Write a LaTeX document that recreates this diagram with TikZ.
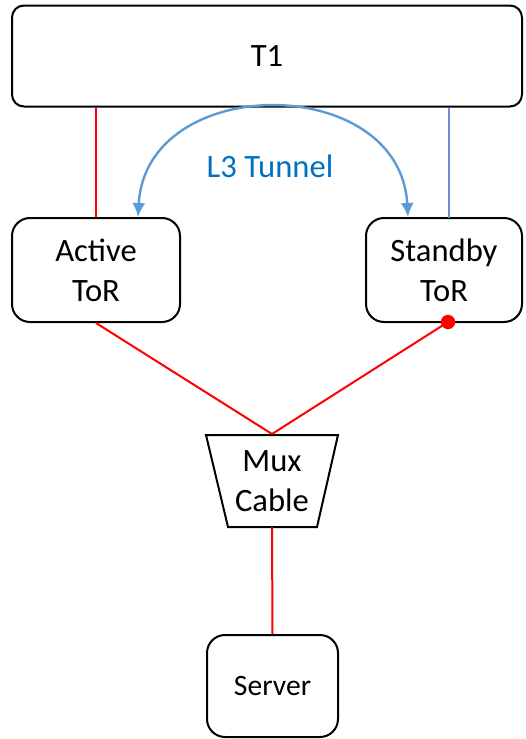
\documentclass[tikz,border=0pt]{standalone}
\usepackage{fontspec}
\setmainfont{Carlito}
\usetikzlibrary{arrows.meta,calc}
\definecolor{redline}{RGB}{255,0,0}
\definecolor{arcblue}{RGB}{91,155,213}
\definecolor{txtblue}{RGB}{0,112,192}
\definecolor{sblue}{RGB}{115,140,205}
\tikzset{
  box/.style={draw=black, line width=1pt, align=center, inner sep=0pt,
    font=\fontsize{16.3}{20}\selectfont},
  redc/.style={draw=redline, line width=1pt},
}
\begin{document}
\begin{tikzpicture}[x=0.5pt,y=-0.5pt]
\useasboundingbox (0,0) rectangle (525,739);
\node[box, rounded corners=6pt, minimum width=255pt, minimum height=50.5pt] (T1) at (267,56) {T1};
\node[box, rounded corners=9pt, minimum width=84pt, minimum height=52pt] (A) at (96,270) {Active\\ToR};
\node[box, rounded corners=9pt, minimum width=78pt, minimum height=52pt] (S) at (444,270) {Standby\\ToR};
\node[box, rounded corners=9pt, minimum width=65.5pt, minimum height=51pt, font=\fontsize{14.8}{18}\selectfont] (Sv) at (272.5,686) {Server};
% mux trapezoid
\draw[line width=1pt] (206,435) -- (338,435) -- (317,527) -- (228,527) -- cycle;
\node[align=center, inner sep=0pt, font=\fontsize{16.3}{20}\selectfont] (M) at (272,481) {Mux\\Cable};
\coordinate (mt) at (272,434);
\coordinate (mb) at (272,527);
\coordinate (sbot) at (448,322);
\coordinate (stop) at (449,218);
\coordinate (al) at (138,217);
\coordinate (ar) at (408,217);
% connectors
\draw[redc] (T1.south -| A.north) -- (A.north);
\draw[draw=sblue, line width=1pt] (T1.south -| stop) -- (stop);
\draw[redc] (A.south) -- (mt);
\draw[redc] (sbot) -- (mt);
\draw[redc] (mb) -- (Sv.north);
\fill[redline] (sbot) circle (3.6pt);
% tunnel
\draw[arcblue, line width=1.2pt, {Latex[length=7pt,width=6.5pt]}-{Latex[length=7pt,width=6.5pt]}]
  (al) .. controls (146,72) and (400,72) .. (ar);
\node[text=txtblue, inner sep=0pt, font=\fontsize{16.3}{20}\selectfont] (L3) at (270,166) {L3 Tunnel};
\end{tikzpicture}
\end{document}
